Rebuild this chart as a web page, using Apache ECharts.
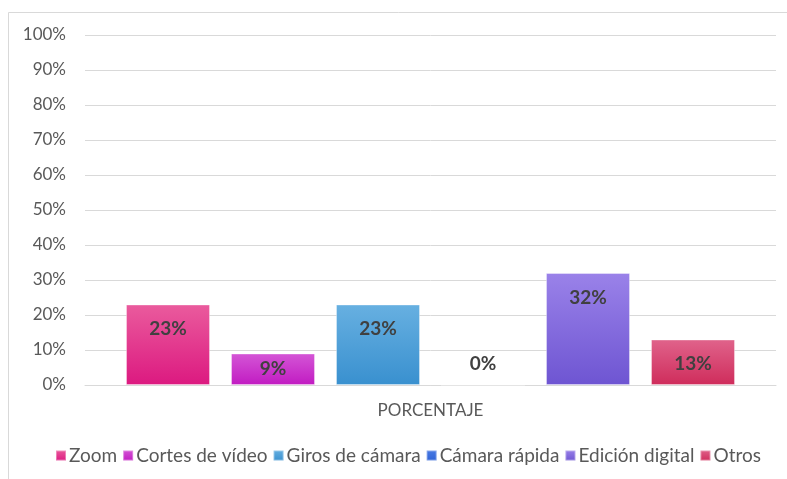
<!DOCTYPE html>
<html>
<head>
<meta charset="utf-8">
<script src="https://cdn.jsdelivr.net/npm/echarts@6/dist/echarts.min.js"></script>
<style>
  html, body { margin: 0; padding: 0; background: #fff; }
  #main { width: 787px; height: 479px; }
</style>
</head>
<body>
<div id="main"></div>
<script>
var categories = ['PORCENTAJE'];
var seriesNames = ['Zoom', 'Cortes de vídeo', 'Giros de cámara', 'Cámara rápida', 'Edición digital', 'Otros'];
var values = [23, 9, 23, 0, 32, 13];
var yTicks = [0, 100, 10];   // min, max, interval

// colores: [arriba, abajo, leyenda]
var colors = [
    ['#EA5B9D', '#DC1980', '#E6207F'],
    ['#D456D6', '#C11BC2', '#C92DCB'],
    ['#67B0E1', '#3990CF', '#4AA5DE'],
    ['#4A7BE4', '#2F63D6', '#3A6CE0'],
    ['#9A82E9', '#6E55D2', '#8468DC'],
    ['#E0638B', '#CF2C5B', '#D8396A']
];
// posicion de la etiqueta por serie
var labelPos = [
    ['insideTop', 15], ['inside', 0], ['insideTop', 15],
    ['insideBottom', 12], ['insideTop', 15], ['insideTop', 15]
];

var chart = echarts.init(document.getElementById('main'));
var font = 'Lato, "Open Sans", sans-serif';

var series = seriesNames.map(function (name, i) {
    return {
        name: name,
        type: 'bar',
        data: [values[i]],
        barWidth: 84,
        barGap: '25%',
        color: colors[i][2],
        itemStyle: {
            color: new echarts.graphic.LinearGradient(0, 0, 0, 1, [
                { offset: 0, color: colors[i][0] },
                { offset: 1, color: colors[i][1] }
            ]),
            borderColor: 'rgba(255,255,255,0.35)',
            borderWidth: 1
        },
        label: {
            show: true,
            position: labelPos[i][0],
            distance: labelPos[i][1],
            formatter: '{c}%',
            color: '#404040',
            fontFamily: font,
            fontWeight: 'bold',
            fontSize: 19
        }
    };
});

var option = {
    animation: false,
    backgroundColor: '#fff',
    graphic: [{
        type: 'rect',
        shape: { x: 8.5, y: 12.5, width: 800, height: 500 },
        style: { fill: 'none', stroke: '#D9D9D9', lineWidth: 1 },
        silent: true
    }],
    grid: { left: 85, right: 11, top: 35, bottom: 94 },
    legend: {
        top: 441,
        left: 50,
        icon: 'rect',
        itemWidth: 10,
        itemHeight: 10,
        itemGap: 5,
        textStyle: { color: '#595959', fontSize: 19, fontFamily: font, padding: [0, 0, 0, -2] },
        data: seriesNames
    },
    xAxis: {
        type: 'category',
        data: categories,
        axisLine: { lineStyle: { color: '#D9D9D9' } },
        axisTick: { show: false },
        axisLabel: { color: '#595959', fontSize: 17, fontFamily: font, margin: 17 }
    },
    yAxis: {
        type: 'value',
        min: yTicks[0],
        max: yTicks[1],
        interval: yTicks[2],
        axisLine: { show: false },
        axisTick: { show: false },
        splitLine: { lineStyle: { color: '#D9D9D9', width: 1 } },
        axisLabel: { formatter: '{value}%', color: '#595959', fontSize: 17, fontFamily: font, margin: 19 }
    },
    series: series
};

chart.setOption(option);
</script>
</body>
</html>
